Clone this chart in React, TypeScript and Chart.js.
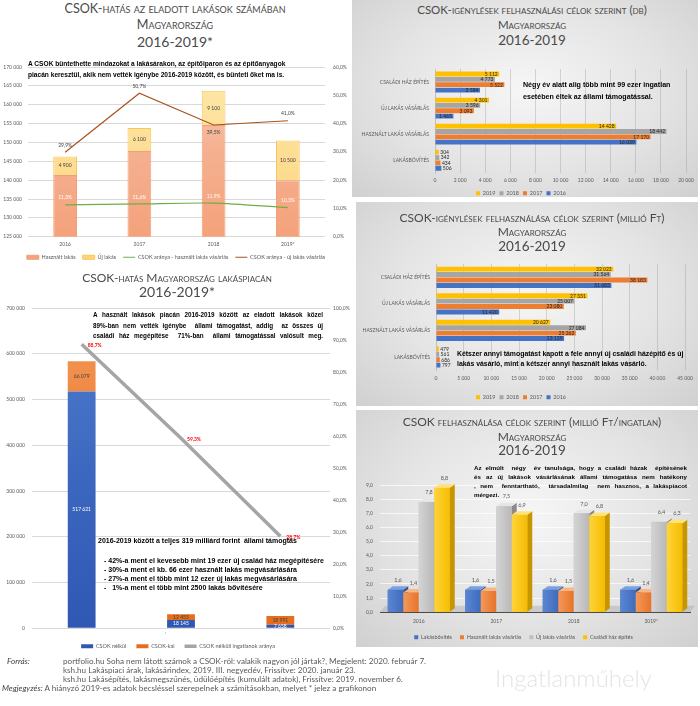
import React, { useEffect, useRef } from 'react';
import { Chart, registerables } from 'chart.js';

Chart.register(...registerables);

const FONT = 'Lato, "Noto Sans", sans-serif';
const BOLD = '"Liberation Sans", Arial, sans-serif';
Chart.defaults.font.family = FONT;

// ---------- Chart 1: CSOK-hatás az eladott lakások számában ----------
const salesYears = ['2016', '2017', '2018', '2019*'];
const usedSales = [141400, 147700, 154600, 140000];
const newSales = [4900, 6100, 9100, 10500];
const csokShareUsed = [11.3, 11.6, 11.9, 10.3];
const csokShareNew = [29.9, 50.7, 39.5, 41.0];

// ---------- Chart 2 & 3: célok szerint ----------
const purposeLabels = ['Családi ház építés', 'Új lakás vásárlás', 'Használt lakás vásárlás', 'Lakásbővítés'];
const seriesYears = ['2019', '2018', '2017', '2016'];
const claims2019 = [5112, 4301, 14428, 304];
const claims2018 = [4773, 3596, 18442, 342];
const claims2017 = [5522, 3093, 17170, 434];
const claims2016 = [3584, 1465, 16039, 506];
const amount2019 = [32022, 27331, 20627, 479];
const amount2018 = [31564, 25007, 27084, 561];
const amount2017 = [38183, 23080, 25262, 686];
const amount2016 = [31683, 11420, 23139, 797];

// ---------- Chart 4: millió Ft / ingatlan ----------
const perYears = ['2016', '2017', '2018', '2019*'];
const perSeriesLabels = ['Lakásbővítés', 'Használt lakás vásárlás', 'Új lakás vásárlás', 'Családi ház építés'];
const perExtension = [1.6, 1.6, 1.6, 1.6];
const perUsed = [1.4, 1.5, 1.5, 1.4];
const perNew = [7.8, 7.5, 7.0, 6.4];
const perHouse = [8.8, 6.9, 6.8, 6.3];

// ---------- Chart 5: lakáspiac ----------
const marketLabels = ['Használt lakás vásárlás', 'Új lakás vásárlás', 'Családi ház építés'];
const withoutCsok = [517621, 18145, 7658];
const withCsok = [66079, 12455, 18991];
const withoutShare = [88.7, 59.3, 28.7];

// ---------- helpers ----------
const fmt = (n: number) => String(Math.round(n)).replace(/\B(?=(\d{3})+(?!\d))/g, ' ');
const pct1 = (v: number) => Number(v).toFixed(1).replace('.', ',') + '%';
const dec1 = (v: number) => Number(v).toFixed(1).replace('.', ',');
const TICK = '#595959';
const tickFont = { family: FONT, size: 5 };
const legendFont = { family: FONT, size: 5.5 };
const YEAR_COLORS = ['#ffc000', '#a5a5a5', '#ed7d31', '#4472c4'];
const byIndex = (a: any, b: any) => a.datasetIndex - b.datasetIndex;

const vGrad = (stops: string[]) => (c: any) => {
  const chart = c.chart;
  const a = chart.chartArea;
  if (!a) return stops[stops.length - 1];
  const g = chart.ctx.createLinearGradient(0, a.top, 0, a.bottom);
  stops.forEach((s, i) => g.addColorStop(i / (stops.length - 1), s));
  return g;
};

function poly(ctx: any, pts: number[][]) {
  ctx.beginPath();
  ctx.moveTo(pts[0][0], pts[0][1]);
  for (let i = 1; i < pts.length; i++) ctx.lineTo(pts[i][0], pts[i][1]);
  ctx.closePath();
  ctx.fill();
}

// ---------- plugins ----------
const salesLabelsPlugin = {
  id: 'salesLabels',
  afterDatasetsDraw(chart: any) {
    const ctx = chart.ctx;
    ctx.save();
    ctx.font = `5px ${FONT}`;
    ctx.textAlign = 'center';
    ctx.textBaseline = 'middle';
    chart.getDatasetMeta(0).data.forEach((el: any, i: number) => {
      ctx.fillStyle = '#ffffff';
      ctx.fillText(fmt(usedSales[i]), el.x, el.base - 10);
    });
    chart.getDatasetMeta(1).data.forEach((el: any, i: number) => {
      ctx.fillStyle = '#404040';
      ctx.fillText(fmt(newSales[i]), el.x, (el.y + el.base) / 2);
    });
    chart.getDatasetMeta(2).data.forEach((el: any, i: number) => {
      ctx.fillStyle = '#ffffff';
      ctx.fillText(pct1(csokShareUsed[i]), el.x, el.y - 7);
    });
    chart.getDatasetMeta(3).data.forEach((el: any, i: number) => {
      ctx.fillStyle = '#404040';
      ctx.fillText(pct1(csokShareNew[i]), el.x, el.y + (i === 2 ? 7 : -7));
    });
    ctx.restore();
  },
};

const hbarLabelsPlugin = {
  id: 'hbarLabels',
  afterDatasetsDraw(chart: any) {
    const ctx = chart.ctx;
    ctx.save();
    ctx.font = `5px ${FONT}`;
    ctx.textBaseline = 'middle';
    ctx.fillStyle = '#262626';
    chart.data.datasets.forEach((ds: any, di: number) => {
      chart.getDatasetMeta(di).data.forEach((el: any, i: number) => {
        const t = fmt(ds.data[i]);
        const w = ctx.measureText(t).width;
        if (el.x - el.base > w + 3) {
          ctx.textAlign = 'right';
          ctx.fillText(t, el.x - 1.5, el.y + 0.3);
        } else {
          ctx.textAlign = 'left';
          ctx.fillText(t, el.x + 1.5, el.y + 0.3);
        }
      });
    });
    ctx.restore();
  },
};

const PAL3D = [
  { f1: '#5a86d2', f2: '#3f6bbd', top: '#7aa0e0', side: '#2c4f8f' },
  { f1: '#f4985a', f2: '#e7742a', top: '#f8b585', side: '#b85a18' },
  { f1: '#d4d4d4', f2: '#b8b8b8', top: '#e6e6e6', side: '#8a8a8a' },
  { f1: '#ffd43a', f2: '#f5bd00', top: '#ffe37a', side: '#c79500' },
];
const DX = 5;
const DY = 3.5;

const bar3dPlugin = {
  id: 'bar3d',
  beforeDatasetsDraw(chart: any) {
    const ctx = chart.ctx;
    const a = chart.chartArea;
    const yb = chart.scales.y.getPixelForValue(0);
    ctx.save();
    ctx.fillStyle = 'rgba(170,170,170,0.45)';
    poly(ctx, [[a.left, yb], [a.right, yb], [a.right + DX, yb - DY - 3], [a.left + DX, yb - DY - 3]]);
    ctx.restore();
  },
  afterDatasetsDraw(chart: any) {
    const ctx = chart.ctx;
    ctx.save();
    const n = chart.data.labels.length;
    for (let i = 0; i < n; i++) {
      chart.data.datasets.forEach((ds: any, di: number) => {
        const el: any = chart.getDatasetMeta(di).data[i];
        const p = PAL3D[di];
        const x0 = el.x - el.width / 2;
        const x1 = el.x + el.width / 2;
        const yt = el.y;
        const yb = el.base;
        ctx.fillStyle = p.side;
        poly(ctx, [[x1, yt], [x1 + DX, yt - DY], [x1 + DX, yb - DY], [x1, yb]]);
        ctx.fillStyle = p.top;
        poly(ctx, [[x0, yt], [x1, yt], [x1 + DX, yt - DY], [x0 + DX, yt - DY]]);
        const g = ctx.createLinearGradient(x0, 0, x1, 0);
        g.addColorStop(0, p.f1);
        g.addColorStop(1, p.f2);
        ctx.fillStyle = g;
        ctx.fillRect(x0, yt, x1 - x0, yb - yt);
      });
    }
    ctx.font = `5.5px ${FONT}`;
    ctx.textAlign = 'center';
    ctx.textBaseline = 'middle';
    ctx.fillStyle = '#595959';
    chart.data.datasets.forEach((ds: any, di: number) => {
      chart.getDatasetMeta(di).data.forEach((el: any, i: number) => {
        ctx.fillText(dec1(ds.data[i]), el.x + DX / 2, el.y - DY - 6);
      });
    });
    ctx.restore();
  },
};

const marketLabelsPlugin = {
  id: 'marketLabels',
  afterDatasetsDraw(chart: any) {
    const ctx = chart.ctx;
    ctx.save();
    ctx.font = `5px ${FONT}`;
    ctx.textAlign = 'center';
    ctx.textBaseline = 'middle';
    chart.getDatasetMeta(0).data.forEach((el: any, i: number) => {
      ctx.fillStyle = '#ffffff';
      ctx.fillText(fmt(withoutCsok[i]), el.x, (el.y + el.base) / 2);
    });
    chart.getDatasetMeta(1).data.forEach((el: any, i: number) => {
      ctx.fillStyle = '#404040';
      ctx.fillText(fmt(withCsok[i]), el.x, (el.y + el.base) / 2);
    });
    ctx.font = `bold 5px ${FONT}`;
    ctx.textAlign = 'left';
    ctx.fillStyle = '#ff0000';
    chart.getDatasetMeta(2).data.forEach((el: any, i: number) => {
      ctx.fillText(pct1(withoutShare[i]), el.x + 6, el.y + 1);
    });
    ctx.restore();
  },
};

// ---------- configs ----------
function makeSales(): any {
  return {
    type: 'bar',
    data: {
      labels: salesYears,
      datasets: [
        {
          type: 'bar', label: 'Használt lakás', data: usedSales, stack: 's', yAxisID: 'y', order: 2,
          backgroundColor: vGrad(['#f9cdb7', '#f5b090', '#f4a27b']), borderColor: '#f2a07a', borderWidth: 1,
          pointStyle: 'rect', barPercentage: 0.32, categoryPercentage: 1,
        },
        {
          type: 'bar', label: 'Új lakás', data: newSales, stack: 's', yAxisID: 'y', order: 2,
          backgroundColor: vGrad(['#fee8ab', '#fdd47e']), borderColor: '#f9c757', borderWidth: 1,
          pointStyle: 'rect', barPercentage: 0.32, categoryPercentage: 1,
        },
        {
          type: 'line', label: 'CSOK aránya - használt lakás vásárlás', data: csokShareUsed, yAxisID: 'y1', order: 0,
          borderColor: '#70ad47', backgroundColor: '#70ad47', borderWidth: 1.2, pointRadius: 0, tension: 0.25, pointStyle: 'line',
        },
        {
          type: 'line', label: 'CSOK aránya - új lakás vásárlás', data: csokShareNew, yAxisID: 'y1', order: 0,
          borderColor: '#a8521c', backgroundColor: '#a8521c', borderWidth: 1.2, pointRadius: 0, pointStyle: 'line',
        },
      ],
    },
    options: {
      responsive: false,
      animation: false,
      layout: { padding: { top: 11, left: 0, right: 0, bottom: 0 } },
      plugins: {
        tooltip: { enabled: false },
        legend: {
          position: 'bottom',
          labels: { font: legendFont, color: TICK, padding: 7, usePointStyle: true, pointStyleWidth: 12, boxHeight: 4, sort: byIndex },
        },
      },
      scales: {
        x: {
          stacked: true, grid: { display: false, drawTicks: false }, border: { display: false },
          ticks: { font: tickFont, color: TICK, padding: 5 },
          afterFit: (s: any) => { s.height = 10.75; },
        },
        y: {
          stacked: true, min: 125000, max: 170000,
          ticks: { stepSize: 5000, font: tickFont, color: TICK, padding: 6, callback: (v: any) => fmt(v) },
          grid: { color: '#d9d9d9', drawTicks: false }, border: { display: false },
          afterFit: (s: any) => { s.width = 28; },
        },
        y1: {
          position: 'right', min: 0, max: 60,
          ticks: { stepSize: 10, font: tickFont, color: TICK, padding: 8, callback: (v: any) => pct1(v) },
          grid: { display: false, drawTicks: false }, border: { display: false },
          afterFit: (s: any) => { s.width = 27; },
        },
      },
    },
    plugins: [salesLabelsPlugin],
  };
}

function makeHBar(series: number[][], max: number, step: number, padTop: number, yWidth: number, xHeight: number, xPad: number): any {
  return {
    type: 'bar',
    data: {
      labels: purposeLabels,
      datasets: series.map((d, i) => ({
        label: seriesYears[i], data: d, backgroundColor: YEAR_COLORS[i], borderWidth: 0,
        barPercentage: 0.9, categoryPercentage: 0.82,
      })),
    },
    options: {
      indexAxis: 'y',
      responsive: false,
      animation: false,
      layout: { padding: { top: padTop, right: 8, left: 0, bottom: 0 } },
      plugins: {
        tooltip: { enabled: false },
        legend: { position: 'bottom', labels: { font: legendFont, color: TICK, padding: 4, boxWidth: 4, boxHeight: 4 } },
      },
      scales: {
        x: {
          min: 0, max,
          ticks: { stepSize: step, font: tickFont, color: TICK, padding: xPad, autoSkip: false, maxRotation: 0, callback: (v: any) => fmt(v) },
          grid: { color: 'rgba(150,150,150,0.35)', drawTicks: false }, border: { display: false },
          afterFit: (s: any) => { s.height = xHeight; },
        },
        y: {
          ticks: { font: tickFont, color: TICK, padding: 6, autoSkip: false, callback: function (this: any, v: any) { return String(this.getLabelForValue(v)).toUpperCase(); } },
          grid: { display: false, drawTicks: false }, border: { display: true, color: '#bfbfbf' },
          afterFit: (s: any) => { s.width = yWidth; },
        },
      },
    },
    plugins: [hbarLabelsPlugin],
  };
}

function makePer(): any {
  const series = [perExtension, perUsed, perNew, perHouse];
  const base = ['#4472c4', '#ed7d31', '#bfbfbf', '#ffc000'];
  return {
    type: 'bar',
    data: {
      labels: perYears,
      datasets: series.map((d, i) => ({
        label: perSeriesLabels[i], data: d, backgroundColor: base[i], borderWidth: 0,
        barPercentage: 1, categoryPercentage: 0.8,
      })),
    },
    options: {
      responsive: false,
      animation: false,
      layout: { padding: { top: 17, right: 8, left: 0, bottom: 0 } },
      plugins: {
        tooltip: { enabled: false },
        legend: { position: 'bottom', labels: { font: legendFont, color: TICK, padding: 8, boxWidth: 4, boxHeight: 4 } },
      },
      scales: {
        x: {
          grid: { display: false, drawTicks: false }, border: { display: true, color: '#404040', width: 1 },
          ticks: { font: tickFont, color: TICK, padding: 6 },
          afterFit: (s: any) => { s.height = 14.25; },
        },
        y: {
          min: 0, max: 9,
          ticks: { stepSize: 1, font: tickFont, color: TICK, padding: 7, callback: (v: any) => dec1(v) },
          grid: { color: 'rgba(255,255,255,0.7)', drawTicks: false }, border: { display: false },
          afterFit: (s: any) => { s.width = 23; },
        },
      },
    },
    plugins: [bar3dPlugin],
  };
}

function makeMarket(): any {
  return {
    type: 'bar',
    data: {
      labels: marketLabels,
      datasets: [
        {
          type: 'bar', label: 'CSOK nélkül', data: withoutCsok, stack: 's', yAxisID: 'y', order: 2,
          backgroundColor: vGrad(['#4f7fd0', '#3d68bf', '#2f58b3']), borderWidth: 0, pointStyle: 'rect',
          barPercentage: 0.35, categoryPercentage: 0.8,
        },
        {
          type: 'bar', label: 'CSOK-kal', data: withCsok, stack: 's', yAxisID: 'y', order: 2,
          backgroundColor: vGrad(['#f39a5c', '#ed7d31', '#e56d1d']), borderWidth: 0, pointStyle: 'rect',
          barPercentage: 0.35, categoryPercentage: 0.8,
        },
        {
          type: 'line', label: 'CSOK nélküli ingatlanok aránya', data: withoutShare, yAxisID: 'y1', order: 0,
          borderColor: '#a5a5a5', backgroundColor: '#a5a5a5', borderWidth: 3.5, pointRadius: 0, pointStyle: 'line',
        },
      ],
    },
    options: {
      responsive: false,
      animation: false,
      layout: { padding: { top: 9, left: 0, right: 0, bottom: 0 } },
      plugins: {
        tooltip: { enabled: false },
        legend: {
          position: 'bottom',
          labels: { font: legendFont, color: TICK, padding: 10, usePointStyle: true, pointStyleWidth: 12, boxHeight: 4, sort: byIndex },
        },
      },
      scales: {
        x: {
          stacked: true, grid: { display: false, drawTicks: false }, border: { display: false },
          ticks: { font: tickFont, color: TICK, padding: 5 },
          afterFit: (s: any) => { s.height = 5.25; },
        },
        y: {
          stacked: true, min: 0, max: 700000,
          ticks: { stepSize: 100000, font: tickFont, color: TICK, padding: 7, callback: (v: any) => fmt(v) },
          grid: { color: '#d9d9d9', drawTicks: false }, border: { display: false },
          afterFit: (s: any) => { s.width = 32; },
        },
        y1: {
          position: 'right', min: 0, max: 100,
          ticks: { stepSize: 10, font: tickFont, color: TICK, padding: 3, callback: (v: any) => pct1(v) },
          grid: { display: false, drawTicks: false }, border: { display: false },
          afterFit: (s: any) => { s.width = 26; },
        },
      },
    },
    plugins: [marketLabelsPlugin],
  };
}

// ---------- components ----------
function ChartBox({ left, top, width, height, make }: any) {
  const ref = useRef<HTMLCanvasElement | null>(null);
  useEffect(() => {
    const c = new Chart(ref.current as HTMLCanvasElement, make());
    return () => c.destroy();
  }, []);
  return (
    <div style={{ position: 'absolute', left, top, width, height }}>
      <canvas ref={ref} width={width} height={height} style={{ width, height, display: 'block' }} />
    </div>
  );
}

function TitleLine({ cx, cy, size, children }: any) {
  return (
    <div
      style={{
        position: 'absolute', left: cx - 200, width: 400, top: cy - size * 0.6, textAlign: 'center',
        fontFamily: FONT, fontWeight: 400, fontSize: size, lineHeight: 1.2, color: '#4a4a4a', fontVariant: 'small-caps', whiteSpace: 'nowrap',
      }}
    >
      {children}
    </div>
  );
}

function Note({ left, top, width, lh, size, lines, justify }: any) {
  return (
    <div style={{ position: 'absolute', left, top, width, fontFamily: BOLD, fontWeight: 'bold', fontSize: size, lineHeight: `${lh}px`, color: '#000' }}>
      {lines.map((l: string, i: number) => (
        <div
          key={i}
          style={{
            whiteSpace: 'pre',
            textAlign: justify && justify[i] ? 'justify' : 'left',
            textAlignLast: justify && justify[i] ? 'justify' : 'left',
          } as any}
        >
          {l}
        </div>
      ))}
    </div>
  );
}

const panelBg = 'radial-gradient(ellipse at 50% 45%, #f6f6f6 0%, #e4e4e4 55%, #d0d0d0 100%)';

export default function App() {
  return (
    <div style={{ position: 'absolute', left: 0, top: 0, width: 700, height: 706, background: '#ffffff', overflow: 'hidden' }}>
      {/* right-hand gray panels */}
      <div style={{ position: 'absolute', left: 352, top: 0, width: 346, height: 197, background: panelBg }} />
      <div style={{ position: 'absolute', left: 356, top: 202, width: 342, height: 204, background: panelBg }} />
      <div style={{ position: 'absolute', left: 356, top: 410, width: 342, height: 237, background: panelBg }} />

      {/* Chart 1 */}
      <TitleLine cx={175} cy={9} size={12.6}>CSOK-hatás az eladott lakások számában</TitleLine>
      <TitleLine cx={175} cy={25} size={12.6}>Magyarország</TitleLine>
      <TitleLine cx={175} cy={42} size={14}>2016-2019*</TitleLine>
      <ChartBox left={0} top={56} width={352} height={214} make={makeSales} />
      <Note
        left={28} top={58} width={300} lh={11} size={6.6}
        lines={[
          'A CSOK büntethette mindazokat a lakásárakon, az építőiparon és az építőanyagok',
          'piacán keresztül, akik nem vették igénybe 2016-2019 között, és bünteti őket ma is.',
        ]}
      />

      {/* Chart 2 */}
      <TitleLine cx={532} cy={10} size={11.5}>CSOK-igénylések felhasználási célok szerint (db)</TitleLine>
      <TitleLine cx={532} cy={25} size={11.5}>Magyarország</TitleLine>
      <TitleLine cx={532} cy={40} size={13.5}>2016-2019</TitleLine>
      <ChartBox
        left={352} top={60} width={346} height={146}
        make={() => makeHBar([claims2019, claims2018, claims2017, claims2016], 20000, 2000, 8, 83, 13.25, 4)}
      />
      <Note
        left={523} top={79} width={175} lh={12} size={7.1}
        lines={['Négy év alatt alig több mint 99 ezer ingatlan', 'esetében éltek az állami támogatással.']}
      />

      {/* Chart 3 */}
      <TitleLine cx={532} cy={218} size={12}>CSOK-igénylések felhasználása célok szerint (millió Ft)</TitleLine>
      <TitleLine cx={532} cy={232} size={12}>Magyarország</TitleLine>
      <TitleLine cx={532} cy={246} size={13.5}>2016-2019</TitleLine>
      <ChartBox
        left={352} top={255} width={346} height={155}
        make={() => makeHBar([amount2019, amount2018, amount2017, amount2016], 45000, 5000, 7, 84, 20.25, 5)}
      />
      <Note
        left={457} top={349} width={240} lh={9.5} size={6.9}
        lines={[
          'Kétszer annyi támogatást kapott a fele annyi új családi házépítő és új',
          'lakás vásárló, mint a kétszer annyi használt lakás vásárló.',
        ]}
      />

      {/* Chart 4 */}
      <TitleLine cx={532} cy={422} size={12}>CSOK felhasználása célok szerint (millió Ft/ingatlan)</TitleLine>
      <TitleLine cx={532} cy={437} size={12}>Magyarország</TitleLine>
      <TitleLine cx={532} cy={450} size={13.5}>2016-2019</TitleLine>
      <ChartBox left={357} top={468} width={341} height={182} make={makePer} />
      <Note
        left={474} top={462.5} width={213} lh={9} size={6.2}
        justify={[true, true, true, false]}
        lines={[
          'Az elmúlt  négy  év tanulsága, hogy a családi házak  építésének',
          'és az új lakások vásárlásának állami támogatása nem hatékony',
          ', nem  fenntartható,  társadalmilag  nem hasznos, a lakáspiacot',
          'mérgezi.',
        ]}
      />

      {/* Chart 5 */}
      <TitleLine cx={177} cy={278} size={12}>CSOK-hatás Magyarország lakáspiacán</TitleLine>
      <TitleLine cx={177} cy={292} size={14}>2016-2019*</TitleLine>
      <ChartBox left={0} top={298} width={356} height={361} make={makeMarket} />
      <Note
        left={93} top={310} width={230} lh={10.5} size={6.3}
        justify={[true, true, true]}
        lines={[
          'A használt lakások piacán 2016-2019 között az eladott lakások közel',
          '89%-ban nem vették igénybe  állami támogatást, addig  az összes új',
          'családi ház megépítése  71%-ban  állami támogatással valósult meg.',
        ]}
      />
      <Note
        left={98} top={536} width={250} lh={10} size={7}
        lines={['2016-2019 között a teljes 319 milliárd forint  állami támogtás']}
      />
      <Note
        left={104} top={555.5} width={250} lh={9.3} size={7}
        lines={[
          '- 42%-a ment el kevesebb mint 19 ezer új család ház megépítésére',
          '- 30%-a ment el kb. 66 ezer használt lakás megvásárlására',
          '- 27%-a ment el több mint 12 ezer új lakás megvásárlására',
          '-   1%-a ment el több mint 2500 lakás bővítésére',
        ]}
      />

      {/* Footer */}
      <div style={{ position: 'absolute', left: 0, top: 656.5, width: 700, fontFamily: FONT, fontSize: 8.1, lineHeight: '9px', color: '#595959' }}>
        <div style={{ position: 'absolute', left: 7, top: 0, fontStyle: 'italic', color: '#404040' }}>Forrás:</div>
        <div style={{ position: 'absolute', left: 63, top: 0, whiteSpace: 'pre' }}>
          <div>portfolio.hu Soha nem látott számok a CSOK-ról: valakik nagyon jól jártak?, Megjelent: 2020. február 7.</div>
          <div>ksh.hu Lakáspiaci árak, lakásárindex, 2019. III. negyedév, Frissítve: 2020. január 23.</div>
          <div>ksh.hu Lakásépítés, lakásmegszűnés, üdülőépítés (kumulált adatok), Frissítve: 2019. november 6.</div>
        </div>
        <div style={{ position: 'absolute', left: 2, top: 27, whiteSpace: 'pre' }}>
          <span style={{ fontStyle: 'italic', color: '#404040' }}>Megjegyzés:</span> A hiányzó 2019-es adatok becsléssel szerepelnek a számításokban, melyet * jelez a grafikonon
        </div>
      </div>
      <div style={{ position: 'absolute', left: 495, top: 663, fontFamily: FONT, fontWeight: 300, fontSize: 24, lineHeight: '30px', color: '#e4e4e4', whiteSpace: 'nowrap' }}>
        Ingatlanműhely
      </div>
    </div>
  );
}
